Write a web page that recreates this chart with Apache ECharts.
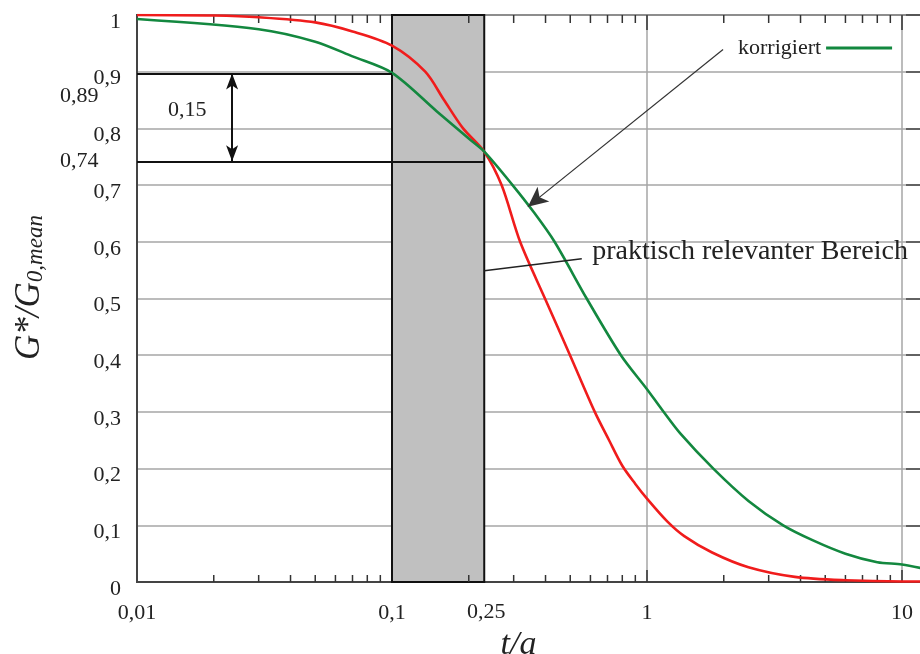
<!DOCTYPE html>
<html>
<head>
<meta charset="utf-8">
<script src="https://cdn.jsdelivr.net/npm/echarts@6/dist/echarts.min.js"></script>
<style>html,body{margin:0;padding:0;background:#fff}#c{width:920px;height:654px}</style>
</head>
<body>
<div id="c"></div>
<script>
// ---- data ----
const redX   = [0.01, 0.02, 0.03, 0.05, 0.07, 0.1, 0.135, 0.16, 0.19, 0.23, 0.269, 0.318, 0.398, 0.499, 0.624, 0.71, 0.80, 0.9, 1.0, 1.2, 1.4, 1.8, 2.5, 3.8, 6, 10, 12];
const redY   = [1.0, 0.999, 0.996, 0.987, 0.971, 0.946, 0.90, 0.85, 0.80, 0.759, 0.70, 0.60, 0.50, 0.40, 0.30, 0.25, 0.205, 0.173, 0.147, 0.107, 0.081, 0.052, 0.026, 0.009, 0.003, 0.001, 0.001];
const greenX = [0.01, 0.03, 0.05, 0.07, 0.1, 0.15, 0.2, 0.23, 0.297, 0.36, 0.434, 0.58, 0.79, 1.0, 1.14, 1.35, 1.82, 2.5, 3.42, 4.5, 6, 8, 10, 12];
const greenY = [0.993, 0.975, 0.953, 0.927, 0.898, 0.83, 0.782, 0.759, 0.70, 0.652, 0.60, 0.50, 0.40, 0.34, 0.305, 0.262, 0.20, 0.143, 0.10, 0.073, 0.05, 0.035, 0.031, 0.024];
const seriesNames = ['original', 'korrigiert'];
const rangeBounds = [0.1, 0.23];          // praktisch relevanter Bereich (drawn boundary)
const rangeLabel = '0,25';
const levels = [0.897, 0.742];            // G*/G0 at the range boundaries
const levelLabels = ['0,89', '0,74'];
const diffLabel = '0,15';
const arrowX = 0.0236;
const minorTicks = [0.02,0.03,0.04,0.05,0.06,0.07,0.08,0.09,0.2,0.3,0.4,0.5,0.6,0.7,0.8,0.9,2,3,4,5,6,7,8,9,20,30];
const majorTicks = [1, 10];
const pointerFrom = [1.987, 0.939];       // from legend text
const pointerTo = [0.341, 0.662];         // to green curve
const rangeLineFrom = [0.23, 0.549];
const rangeLineTo = [0.555, 0.570];
const rangeText = 'praktisch relevanter Bereich';

const FONT = 'Liberation Serif';
const fmt = v => String(+(+v).toPrecision(3)).replace('.', ',');

const chart = echarts.init(document.getElementById('c'), null, {renderer: 'canvas'});
const hiddenSym = {symbol: 'circle', symbolSize: 1, itemStyle: {color: 'rgba(0,0,0,0)'}};
const lblStyle = {show: true, color: '#222', fontFamily: FONT, fontSize: 22};

chart.setOption({
  animation: false,
  backgroundColor: '#fff',
  textStyle: {fontFamily: FONT},
  grid: [
    {left: 137, top: 15, width: 1020, height: 567, show: true, borderColor: '#444', borderWidth: 2,
     backgroundColor: 'transparent', outerBoundsMode: 'none', containLabel: false},
    {left: 137, top: 15, width: 783, height: 567, show: false, outerBoundsMode: 'none', containLabel: false}
  ],
  legend: {
    data: ['korrigiert'], left: 733, top: 32, align: 'right',
    itemWidth: 66, itemHeight: 3, icon: 'rect', itemGap: 8,
    textStyle: {fontFamily: FONT, fontSize: 22, color: '#222'}
  },
  xAxis: [
    {type: 'log', gridIndex: 0, min: 0.01, max: 100, logBase: 10,
     axisLine: {show: true, onZero: false, lineStyle: {color: '#444', width: 2}},
     axisTick: {show: false},
     axisLabel: {color: '#222', fontFamily: FONT, fontSize: 22, margin: 20, formatter: fmt},
     splitLine: {show: true, lineStyle: {color: '#a6a6a6', width: 1.5}}},
    {type: 'value', gridIndex: 1, min: 0, max: 1,
     axisLine: {show: false, onZero: false}, axisTick: {show: false}, axisLabel: {show: false}, splitLine: {show: false},
     name: 't/a', nameLocation: 'middle', nameGap: 46,
     nameTextStyle: {fontFamily: FONT, fontStyle: 'italic', fontSize: 34, color: '#222', padding: [0, 20, 0, 0]}}
  ],
  yAxis: [
    {type: 'value', gridIndex: 0, min: 0, max: 1, interval: 0.1,
     axisLine: {show: true, onZero: false, lineStyle: {color: '#444', width: 2}},
     axisTick: {show: false},
     axisLabel: {color: '#222', fontFamily: FONT, fontSize: 22, margin: 16, verticalAlign: 'top', lineHeight: 14,
       formatter: v => (v === 0 ? '0' : v === 1 ? '1' : v.toFixed(1).replace('.', ','))},
     splitLine: {show: true, lineStyle: {color: '#a6a6a6', width: 1.5}},
     name: '{g|G*/G}{s|0,mean}', nameLocation: 'middle', nameGap: 90,
     nameTextStyle: {color: '#222', padding: [0, 0, 0, 22], rich: {
       g: {fontFamily: FONT, fontStyle: 'italic', fontSize: 35, lineHeight: 35, verticalAlign: 'top', color: '#222'},
       s: {fontFamily: FONT, fontStyle: 'italic', fontSize: 23, lineHeight: 23, verticalAlign: 'bottom', padding: [18, 0, 0, 0], color: '#222'}
     }}},
    {type: 'value', gridIndex: 1, position: 'right', min: 0, max: 1, interval: 0.1,
     axisLine: {show: false, onZero: false},
     axisTick: {show: true, inside: true, length: 14, lineStyle: {color: '#444', width: 1.5}},
     axisLabel: {show: false}, splitLine: {show: false}}
  ],
  series: [
    { // shaded range + annotation lines + labels
      type: 'line', name: 'annot', xAxisIndex: 0, yAxisIndex: 0, data: [], z: 1,
      markArea: {silent: true,
        itemStyle: {color: '#c0c0c0', borderColor: '#111', borderWidth: 2},
        data: [[{coord: [rangeBounds[0], 0]}, {coord: [rangeBounds[1], 1]}]]},
      markLine: {silent: true, symbol: 'none', label: {show: false},
        lineStyle: {color: '#111', width: 2, type: 'solid'},
        data: [
          [{coord: [0.01, levels[0]]}, {coord: [rangeBounds[0], levels[0]]}],
          [{coord: [0.01, levels[1]]}, {coord: [rangeBounds[1], levels[1]]}],
          [{coord: [arrowX, levels[0]], symbol: 'arrow', symbolSize: [9, 16]}, {coord: [arrowX, levels[1]], symbol: 'arrow', symbolSize: [9, 16]}],
          [{coord: rangeLineFrom, lineStyle: {width: 1.5, color: '#222'}}, {coord: rangeLineTo}]
        ]},
      markPoint: Object.assign({silent: true, data: [
        {coord: [0.01, levels[0]], label: Object.assign({}, lblStyle, {formatter: levelLabels[0], position: 'left', distance: 38, offset: [0, 23]})},
        {coord: [0.01, levels[1]], label: Object.assign({}, lblStyle, {formatter: levelLabels[1], position: 'left', distance: 38})},
        {coord: [arrowX, (levels[0] + levels[1]) / 2], label: Object.assign({}, lblStyle, {formatter: diffLabel, position: 'left', distance: 25, offset: [0, -7]})},
        {coord: [rangeBounds[1], 0], label: Object.assign({}, lblStyle, {formatter: rangeLabel, position: 'bottom', distance: 19, offset: [2, 0]})},
        {coord: rangeLineTo, label: Object.assign({}, lblStyle, {formatter: rangeText, fontSize: 28, position: 'right', distance: 10, offset: [0, -7]})}
      ]}, hiddenSym)
    },
    { // minor / major ticks on bottom and top edges
      type: 'custom', name: 'ticks', xAxisIndex: 0, yAxisIndex: 0, z: 2, silent: true, clip: false,
      data: minorTicks.map(v => [v, 0]).concat(majorTicks.map(v => [v, 1])),
      renderItem: (params, api) => {
        const x = api.value(0), major = api.value(1) === 1;
        const pb = api.coord([x, 0]), pt = api.coord([x, 1]);
        const lb = major ? 12 : 7, lt = major ? 15 : 8;
        const st = {stroke: '#333', lineWidth: 1.5};
        return {type: 'group', children: [
          {type: 'line', shape: {x1: pb[0], y1: pb[1], x2: pb[0], y2: pb[1] - lb}, style: st},
          {type: 'line', shape: {x1: pt[0], y1: pt[1], x2: pt[0], y2: pt[1] + lt}, style: st}
        ]};
      }
    },
    {
      type: 'line', name: seriesNames[0], xAxisIndex: 0, yAxisIndex: 0, z: 3,
      data: redX.map((x, i) => [x, redY[i]]),
      showSymbol: false, symbol: 'none', smooth: 0.3,
      lineStyle: {color: '#f01c1c', width: 2.6}, itemStyle: {color: '#f01c1c'}
    },
    {
      type: 'line', name: seriesNames[1], xAxisIndex: 0, yAxisIndex: 0, z: 4,
      data: greenX.map((x, i) => [x, greenY[i]]),
      showSymbol: false, symbol: 'none', smooth: 0.3,
      lineStyle: {color: '#13883f', width: 2.6}, itemStyle: {color: '#13883f'},
      markLine: {silent: true, label: {show: false}, symbol: ['none', 'arrow'], symbolSize: [14, 20],
        lineStyle: {color: '#333', width: 1.2, type: 'solid'},
        data: [[{coord: pointerFrom}, {coord: pointerTo}]]}
    }
  ]
});
</script>
</body>
</html>
